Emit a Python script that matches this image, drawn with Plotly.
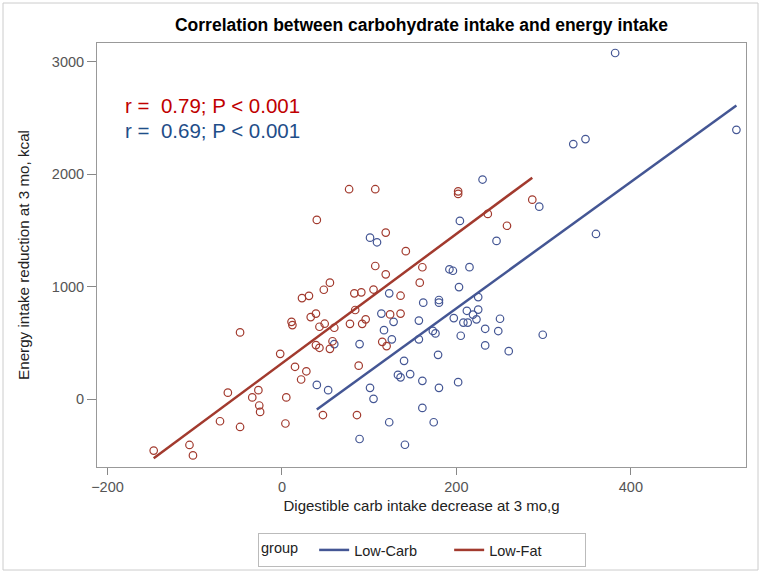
import numpy as np
import plotly.graph_objects as go

# Low-Fat group (red)
lowfat_x = [-147, -106, -102, -71, -62, -48, -48, -34, -27, -26, -25, -2, 5, 4, 15, 22, 28,
            11, 12, 23, 31, 33, 39, 43, 49, 60, 39, 43, 55, 58, 48, 55, 47, 83, 91, 84, 78,
            92, 96, 88, 86, 105, 107, 119, 124, 136, 115, 120, 136, 142, 161, 158, 77, 107,
            40, 119, 202, 202, 287, 236, 258]
lowfat_y = [-457, -407, -500, -196, 58, 594, -247, 16, 80, -56, -113, 403, 16, -216, 288, 175, 248,
            688, 659, 899, 919, 730, 761, 644, 671, 635, 481, 457, 448, 515, 973, 1036, -141, 941,
            950, 793, 670, 670, 710, 298, -141, 975, 1184, 1110, 754, 761, 510, 472, 920, 1316,
            1173, 1036, 1867, 1867, 1594, 1481, 1848, 1825, 1774, 1647, 1542]

# Low-Carb group (blue)
lowcarb_x = [40, 53, 60, 89, 89, 101, 105, 123, 114, 128, 117, 126, 140, 133, 136, 147, 123, 141,
             162, 157, 157, 161, 161, 101, 109, 230, 295, 204, 246, 192, 196, 215, 203, 225, 180,
             180, 212, 225, 219, 197, 223, 250, 208, 213, 233, 248, 173, 176, 205, 299, 233, 260,
             179, 202, 180, 174, 382, 521, 334, 348, 360]
lowcarb_y = [127, 80, 490, 490, -354, 101, 3, 941, 761, 688, 614, 532, 341, 216, 194, 223, -205, -405,
             858, 699, 532, 163, -78, 1436, 1395, 1953, 1712, 1585, 1407, 1155, 1142, 1174, 997, 908,
             882, 858, 786, 797, 752, 721, 710, 715, 681, 681, 626, 606, 607, 585, 564, 573, 478, 427,
             394, 151, 101, -205, 3078, 2395, 2268, 2313, 1469]

x_ticks = [-200, 0, 200, 400]
y_ticks = [0, 1000, 2000, 3000]

BLUE = "#445694"
RED = "#A23A2E"


def fit_line(xs, ys):
    xs = np.asarray(xs, float)
    ys = np.asarray(ys, float)
    b, a = np.polyfit(xs, ys, 1)
    lx = np.array([xs.min(), xs.max()])
    return lx, a + b * lx


fig = go.Figure()

fig.add_trace(go.Scatter(x=lowcarb_x, y=lowcarb_y, mode="markers", showlegend=False,
                         marker=dict(symbol="circle-open", size=7.5, color=BLUE, line=dict(width=1.2)),
                         hoverinfo="x+y"))
fig.add_trace(go.Scatter(x=lowfat_x, y=lowfat_y, mode="markers", showlegend=False,
                         marker=dict(symbol="circle-open", size=7.5, color=RED, line=dict(width=1.2)),
                         hoverinfo="x+y"))

lx, ly = fit_line(lowcarb_x, lowcarb_y)
fig.add_trace(go.Scatter(x=lx, y=ly, mode="lines", name="Low-Carb",
                         line=dict(color=BLUE, width=2.5)))
lx, ly = fit_line(lowfat_x, lowfat_y)
fig.add_trace(go.Scatter(x=lx, y=ly, mode="lines", name="Low-Fat",
                         line=dict(color=RED, width=2.5)))

FONT = "Liberation Sans, Arial, sans-serif"
W, H = 763, 574
L, R, T, B = 97, 17, 43, 107
PW, PH = W - L - R, H - T - B

fig.update_layout(
    width=W, height=H,
    margin=dict(l=L, r=R, t=T, b=B, autoexpand=False),
    paper_bgcolor="white", plot_bgcolor="white",
    font=dict(family=FONT, color="#333333"),
    title=dict(text="<b>Correlation between carbohydrate intake and energy intake</b>",
               x=(L + PW / 2) / W, xref="container", xanchor="center",
               y=1 - 25 / H, yref="container", yanchor="middle",
               font=dict(family=FONT, size=17.5, color="black")),
    xaxis=dict(range=[-212, 532], tickvals=x_ticks, ticks="outside", ticklen=7,
               tickcolor="#888888", showline=True, linecolor="#999999", linewidth=1,
               mirror=True, showgrid=False, zeroline=False, automargin=False,
               tickfont=dict(size=14.5, color="#555555"),
               title=dict(text="Digestible carb intake decrease at 3 mo,g",
                          font=dict(size=15, color="#222222"), standoff=6)),
    yaxis=dict(range=[-603, 3167], tickvals=y_ticks, ticks="outside", ticklen=9,
               tickcolor="#888888", showline=True, linecolor="#999999", linewidth=1,
               mirror=True, showgrid=False, zeroline=False, automargin=False,
               tickfont=dict(size=14.5, color="#555555"),
               title=dict(text="Energy intake reduction at 3 mo, kcal",
                          font=dict(size=15.2, color="#222222"), standoff=18)),
    legend=dict(orientation="h", x=422 / W, xref="container", xanchor="center",
                y=1 - 533 / H, yref="container", yanchor="top",
                bordercolor="#bbbbbb", borderwidth=1, bgcolor="white",
                title=dict(text="group  ", font=dict(size=14.5, color="#222222")),
                font=dict(size=14.5, color="#222222"), entrywidth=90),
    annotations=[
        dict(text="r =  0.79; P < 0.001",
             x=(123 - L) / PW, y=(H - B - 105) / PH, xref="paper", yref="paper",
             xanchor="left", yanchor="middle",
             showarrow=False, font=dict(size=20.5, color="#C00000", family=FONT)),
        dict(text="r =  0.69; P < 0.001",
             x=(123 - L) / PW, y=(H - B - 130) / PH, xref="paper", yref="paper",
             xanchor="left", yanchor="middle",
             showarrow=False, font=dict(size=20.5, color="#1F4E89", family=FONT)),
    ],
    shapes=[dict(type="rect", xref="paper", yref="paper",
                 x0=(3 - L) / PW, x1=(758 - L) / PW,
                 y0=(H - B - 570) / PH, y1=(H - B - 3) / PH,
                 line=dict(color="#cccccc", width=1), layer="below")],
)

fig.write_html("out.html", config={"displayModeBar": False},
               post_script="document.body.style.margin='0';document.body.style.overflow='hidden';")
